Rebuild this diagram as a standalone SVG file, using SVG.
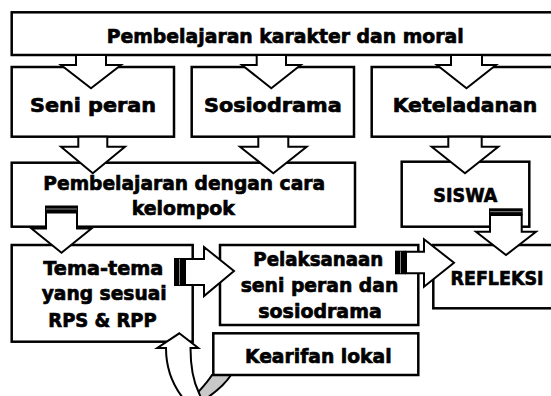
<svg xmlns="http://www.w3.org/2000/svg" width="551" height="396" viewBox="0 0 551 396">
<style>
.box{fill:#fff;stroke:#000;stroke-width:2.5}
.arr{fill:#fff;stroke:#000;stroke-width:2;stroke-linejoin:miter}
.stripe{fill:#000}
.sline{stroke:#888;stroke-width:1}
.back{fill:#c8c8c8;stroke:#000;stroke-width:2}
text{font-family:"DejaVu Sans","Liberation Sans",sans-serif;font-weight:bold;font-size:20px;fill:#000;stroke:#000;stroke-width:0.7;text-anchor:middle}
</style>
<rect width="551" height="396" fill="#fff"/>

<g id="n-top"><rect class="box" x="11.7" y="12.3" width="560" height="42.7"/>
<text x="285.2" y="43.3" textLength="357" lengthAdjust="spacingAndGlyphs">Pembelajaran karakter dan moral</text></g>

<g id="n-seni"><rect class="box" x="11.7" y="67" width="162.3" height="69.7"/>
<text x="93" y="111.7" textLength="126" lengthAdjust="spacingAndGlyphs">Seni peran</text></g>

<g id="n-sosio"><rect class="box" x="191.7" y="67" width="162.3" height="69.7"/>
<text x="272.8" y="111.7" textLength="137.7" lengthAdjust="spacingAndGlyphs">Sosiodrama</text></g>

<g id="n-ketel"><rect class="box" x="371.7" y="67" width="190" height="69.7"/>
<text x="465" y="111.7" textLength="144.6" lengthAdjust="spacingAndGlyphs">Keteladanan</text></g>

<g id="n-kelompok"><rect class="box" x="11.7" y="162.7" width="343.3" height="64"/>
<text x="184.2" y="190" textLength="281.7" lengthAdjust="spacingAndGlyphs">Pembelajaran dengan cara</text>
<text x="183.3" y="215" textLength="103.3" lengthAdjust="spacingAndGlyphs">kelompok</text></g>

<g id="n-siswa"><rect class="box" x="401.7" y="161.7" width="127.6" height="65"/>
<text x="465.3" y="201.7" textLength="64" lengthAdjust="spacingAndGlyphs">SISWA</text></g>

<g id="n-tema"><rect class="box" x="11.7" y="245" width="181" height="96.7"/>
<text x="103.3" y="275" textLength="120" lengthAdjust="spacingAndGlyphs">Tema-tema</text>
<text x="104.2" y="300" textLength="125" lengthAdjust="spacingAndGlyphs">yang sesuai</text>
<text x="102.5" y="326.7" textLength="108.4" lengthAdjust="spacingAndGlyphs">RPS &amp; RPP</text></g>

<g id="n-pelaksanaan"><rect class="box" x="220" y="245" width="198.3" height="80"/>
<text x="318.3" y="266" textLength="130" lengthAdjust="spacingAndGlyphs">Pelaksanaan</text>
<text x="319.5" y="291.7" textLength="157.6" lengthAdjust="spacingAndGlyphs">seni peran dan</text>
<text x="320" y="318.3" textLength="123.4" lengthAdjust="spacingAndGlyphs">sosiodrama</text></g>

<g id="n-refleksi"><rect class="box" x="433.3" y="245" width="130" height="63.3"/>
<text x="497" y="285" textLength="93" lengthAdjust="spacingAndGlyphs">REFLEKSI</text></g>

<g id="connectors">
<polygon class="arr" points="76,55 76,65 61,65 91,88.3 121,65 106,65 106,55"/>
<polygon class="arr" points="256.7,55 256.7,65 242,65 271.3,88.3 300.7,65 286,65 286,55"/>
<polygon class="arr" points="451,55 451,65 437,65 466.5,88.3 496,65 482,65 482,55"/>
<polygon class="arr" points="78.3,136.7 78.3,146.7 61,146.7 92.8,173.3 125,146.7 107.3,146.7 107.3,136.7"/>
<polygon class="arr" points="258.3,136.7 258.3,146.7 240,146.7 273.3,173.3 306.7,146.7 288.3,146.7 288.3,136.7"/>
<polygon class="arr" points="448.3,136.7 448.3,146.7 431.7,146.7 465,173.3 498.3,146.7 481.7,146.7 481.7,136.7"/>
<polygon class="arr" points="46,212.5 46,228.5 31.5,228.5 61.5,252.7 91.5,228.5 77,228.5 77,212.5"/>
<rect class="stripe" x="45" y="205.5" width="33" height="7"/>
<line class="sline" x1="46" y1="209" x2="77" y2="209"/>
<polygon class="arr" points="490,215 490,231.7 476,231.7 506,255 536,231.7 521.7,231.7 521.7,215"/>
<rect class="stripe" x="489" y="208.3" width="33.7" height="7"/>
<line class="sline" x1="490" y1="211.7" x2="521.7" y2="211.7"/>
<polygon class="arr" points="185,259 204,259 204,247 234,271 204,296 204,285 185,285"/>
<rect class="stripe" x="174" y="258" width="11" height="28"/>
<line class="sline" x1="179.5" y1="259" x2="179.5" y2="285"/>
<polygon class="arr" points="406,251.7 424,251.7 424,239.3 454,262.7 424,286.7 424,273.3 406,273.3"/>
<rect class="stripe" x="395" y="250.7" width="11" height="23.6"/>
<line class="sline" x1="400.5" y1="251.7" x2="400.5" y2="273.3"/>
<path class="back" d="M193,398 C200,390 207,383 212,375 L231,375 C224,386 214,393 207,398 Z"/>
<path class="arr" d="M179.3,333.3 L198.3,348 L190.5,348 C190.5,366 193,381 199,393 L201,398 L183,398 C172,384 166,368 166,348 L157.3,348 Z"/>
</g>

<g id="n-kearifan"><rect class="box" x="213.3" y="333.3" width="205" height="41.7"/>
<text x="318.3" y="362.7" textLength="146.7" lengthAdjust="spacingAndGlyphs">Kearifan lokal</text></g>
</svg>
